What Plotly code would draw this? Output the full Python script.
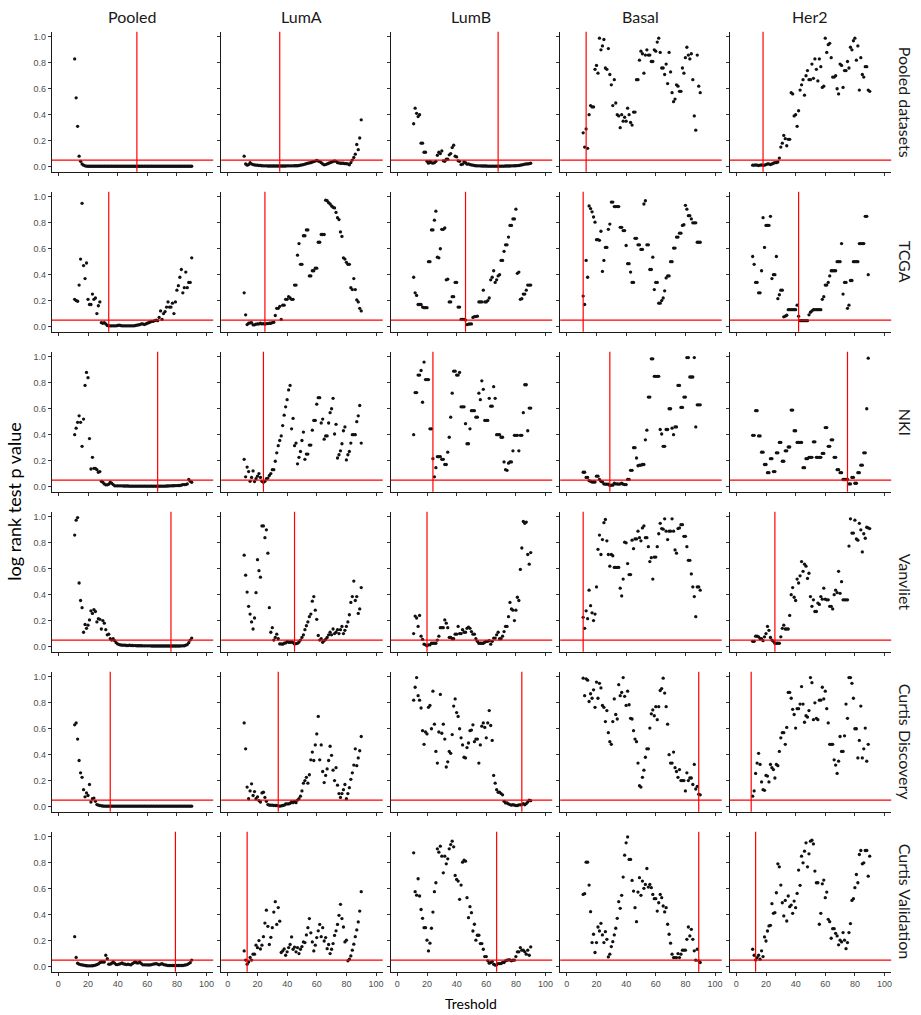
import plotly.graph_objects as go

# Threshold grid (percent) shared by every panel
thresholds = list(range(11, 91))

subtypes = ["Pooled", "LumA", "LumB", "Basal", "Her2"]
cohorts = ["Pooled datasets", "TCGA", "NKI", "Vanvliet", "Curtis Discovery", "Curtis Validation"]

# Selected cut-off per cohort (rows) and subtype (columns)
cutoffs = [
    [53, 35, 68, 13, 18],
    [34, 25, 46, 11, 42],
    [67, 24, 24, 29, 75],
    [76, 45, 20, 11, 26],
    [35, 34, 84, 89, 10],
    [79, 13, 67, 89, 13],
]
p_line = 0.05

# ---- log rank p values, one list per cohort / subtype ----
pd_pooled = [0.83, 0.53, 0.31, 0.08, 0.04, 0.02, 0.01, 0.005, 0.003, 0.002,
             0.002, 0.002, 0.002, 0.002, 0.002, 0.002, 0.002, 0.002, 0.002, 0.002,
             0.002, 0.002, 0.002, 0.002, 0.002, 0.002, 0.002, 0.002, 0.002, 0.002,
             0.002, 0.002, 0.002, 0.002, 0.002, 0.002, 0.002, 0.002, 0.002, 0.002,
             0.002, 0.002, 0.002, 0.002, 0.002, 0.002, 0.002, 0.002, 0.002, 0.002,
             0.002, 0.002, 0.002, 0.002, 0.002, 0.002, 0.002, 0.002, 0.002, 0.002,
             0.002, 0.002, 0.002, 0.002, 0.002, 0.002, 0.002, 0.002, 0.002, 0.002,
             0.002, 0.002, 0.002, 0.002, 0.002, 0.002, 0.002, 0.002, 0.002, 0.002]
pd_luma = [0.08, 0.02, 0.01, 0.015, 0.03, 0.02, 0.015, 0.012, 0.01, 0.01,
           0.008, 0.008, 0.006, 0.005, 0.005, 0.005, 0.004, 0.004, 0.004, 0.004,
           0.004, 0.004, 0.004, 0.004, 0.004, 0.004, 0.004, 0.004, 0.004, 0.005,
           0.005, 0.005, 0.005, 0.005, 0.006, 0.006, 0.006, 0.008, 0.01, 0.012,
           0.015, 0.018, 0.022, 0.025, 0.028, 0.03, 0.035, 0.038, 0.042, 0.048,
           0.042, 0.038, 0.03, 0.02, 0.013, 0.015, 0.02, 0.025, 0.03, 0.035,
           0.038, 0.044, 0.04, 0.03, 0.028, 0.025, 0.025, 0.025, 0.022, 0.022,
           0.02, 0.013, 0.03, 0.05, 0.07, 0.095, 0.17, 0.13, 0.22, 0.36]
pd_lumb = [0.33, 0.45, 0.41, 0.385, 0.40, 0.18, 0.18, 0.11, 0.11, 0.04,
           0.026, 0.04, 0.03, 0.026, 0.03, 0.04, 0.087, 0.11, 0.10, 0.12,
           0.044, 0.04, 0.056, 0.056, 0.09, 0.10, 0.146, 0.164, 0.08, 0.074,
           0.044, 0.04, 0.015, 0.018, 0.036, 0.03, 0.018, 0.02, 0.015, 0.012,
           0.01, 0.008, 0.006, 0.005, 0.005, 0.005, 0.004, 0.004, 0.004, 0.004,
           0.003, 0.003, 0.003, 0.003, 0.003, 0.003, 0.003, 0.003, 0.003, 0.003,
           0.003, 0.003, 0.004, 0.004, 0.004, 0.004, 0.005, 0.005, 0.006, 0.006,
           0.007, 0.008, 0.01, 0.012, 0.015, 0.018, 0.02, 0.02, 0.022, 0.025]
pd_basal = [0.26, 0.15, 0.29, 0.14, 0.40, 0.47, 0.46, 0.46, 0.75, 0.78,
            0.72, 0.99, 0.90, 0.93, 0.98, 0.76, 0.75, 0.91, 0.71, 0.63,
            0.47, 0.67, 0.49, 0.40, 0.39, 0.30, 0.40, 0.35, 0.38, 0.35,
            0.45, 0.40, 0.34, 0.32, 0.42, 0.42, 0.67, 0.67, 0.82, 0.89,
            0.87, 0.72, 0.86, 0.90, 0.86, 0.86, 0.81, 0.81, 0.90, 0.89,
            0.96, 0.99, 0.88, 0.76, 0.76, 0.71, 0.79, 0.64, 0.88, 0.73,
            0.57, 0.50, 0.52, 0.63, 0.62, 0.58, 0.58, 0.76, 0.72, 0.84,
            0.92, 0.86, 0.83, 0.87, 0.67, 0.39, 0.28, 0.86, 0.62, 0.57]
pd_her2 = [0.01, 0.01, 0.012, 0.01, 0.008, 0.01, 0.012, 0.01, 0.01, 0.015,
           0.02, 0.02, 0.015, 0.02, 0.025, 0.03, 0.03, 0.035, 0.065, 0.15,
           0.18, 0.24, 0.215, 0.16, 0.21, 0.21, 0.57, 0.56, 0.39, 0.40,
           0.31, 0.43, 0.59, 0.63, 0.67, 0.55, 0.70, 0.74, 0.67, 0.67,
           0.79, 0.68, 0.83, 0.75, 0.66, 0.83, 0.77, 0.61, 0.62, 0.99,
           0.88, 0.94, 0.95, 0.84, 0.69, 0.69, 0.70, 0.60, 0.56, 0.79,
           0.78, 0.61, 0.74, 0.74, 0.81, 0.76, 0.92, 0.90, 0.97, 0.99,
           0.82, 0.93, 0.59, 0.84, 0.71, 0.69, 0.77, 0.77, 0.59, 0.58]

tcga_pooled = [0.21, 0.20, 0.195, 0.32, 0.52, 0.95, 0.47, 0.37, 0.49, 0.21,
               0.17, 0.17, 0.25, 0.21, 0.22, 0.10, 0.16, 0.19, 0.03, 0.025,
               0.03, 0.02, 0.008, 0.005, 0.005, 0.005, 0.005, 0.005, 0.005, 0.008,
               0.01, 0.008, 0.005, 0.005, 0.005, 0.005, 0.005, 0.005, 0.005, 0.005,
               0.005, 0.008, 0.01, 0.012, 0.015, 0.02, 0.02, 0.015, 0.02, 0.025,
               0.03, 0.035, 0.04, 0.04, 0.045, 0.05, 0.045, 0.07, 0.12, 0.055,
               0.10, 0.115, 0.15, 0.19, 0.15, 0.15, 0.18, 0.10, 0.19, 0.28,
               0.315, 0.38, 0.44, 0.26, 0.30, 0.42, 0.30, 0.34, 0.34, 0.53]
tcga_luma = [0.26, 0.09, 0.015, 0.025, 0.028, 0.03, 0.013, 0.013, 0.018, 0.02,
             0.02, 0.025, 0.02, 0.023, 0.018, 0.023, 0.023, 0.025, 0.025, 0.03,
             0.033, 0.085, 0.14, 0.14, 0.155, 0.055, 0.165, 0.165, 0.21, 0.21,
             0.23, 0.22, 0.21, 0.21, 0.32, 0.32, 0.55, 0.64, 0.48, 0.48,
             0.70, 0.70, 0.745, 0.745, 0.39, 0.39, 0.43, 0.43, 0.45, 0.45,
             0.65, 0.65, 0.71, 0.71, 0.71, 0.975, 0.97, 0.955, 0.945, 0.93,
             0.92, 0.915, 0.88, 0.84, 0.825, 0.73, 0.695, 0.53, 0.52, 0.495,
             0.48, 0.48, 0.30, 0.285, 0.37, 0.285, 0.205, 0.19, 0.14, 0.12]
tcga_lumb = [0.38, 0.26, 0.24, 0.17, 0.17, 0.17, 0.15, 0.145, 0.145, 0.145,
             0.50, 0.50, 0.745, 0.745, 0.82, 0.89, 0.535, 0.53, 0.60, 0.75,
             0.75, 0.76, 0.36, 0.365, 0.19, 0.19, 0.23, 0.23, 0.34, 0.34,
             0.15, 0.15, 0.055, 0.055, 0.055, 0.05, 0.015, 0.018, 0.02, 0.02,
             0.07, 0.077, 0.077, 0.08, 0.19, 0.19, 0.19, 0.28, 0.19, 0.19,
             0.20, 0.22, 0.36, 0.38, 0.43, 0.34, 0.36, 0.39, 0.40, 0.51,
             0.51, 0.58, 0.63, 0.63, 0.69, 0.78, 0.78, 0.83, 0.83, 0.905,
             0.41, 0.42, 0.21, 0.215, 0.25, 0.25, 0.28, 0.32, 0.32, 0.32]
tcga_basal = [0.235, 0.17, 0.51, 0.38, 0.93, 0.91, 0.885, 0.845, 0.805, 0.67,
              0.67, 0.665, 0.735, 0.425, 0.51, 0.61, 0.61, 0.75, 0.79, 0.96,
              0.96, 0.925, 0.925, 0.925, 0.925, 0.765, 0.765, 0.74, 0.74, 0.625,
              0.485, 0.485, 0.42, 0.34, 0.34, 0.68, 0.68, 0.63, 0.63, 0.595,
              0.595, 0.945, 0.97, 0.63, 0.63, 0.44, 0.44, 0.535, 0.285, 0.34,
              0.34, 0.18, 0.18, 0.20, 0.22, 0.275, 0.375, 0.39, 0.39, 0.50,
              0.50, 0.605, 0.605, 0.69, 0.69, 0.72, 0.72, 0.78, 0.785, 0.935,
              0.905, 0.855, 0.855, 0.83, 0.80, 0.80, 0.80, 0.65, 0.65, 0.65]
tcga_her2 = [0.54, 0.48, 0.34, 0.34, 0.26, 0.26, 0.43, 0.84, 0.61, 0.78,
             0.78, 0.78, 0.85, 0.37, 0.40, 0.40, 0.54, 0.215, 0.245, 0.28,
             0.28, 0.075, 0.08, 0.087, 0.13, 0.13, 0.13, 0.13, 0.13, 0.13,
             0.165, 0.08, 0.045, 0.045, 0.045, 0.045, 0.045, 0.045, 0.09, 0.11,
             0.12, 0.13, 0.13, 0.13, 0.13, 0.13, 0.13, 0.21, 0.23, 0.32,
             0.32, 0.34, 0.39, 0.43, 0.43, 0.43, 0.43, 0.50, 0.50, 0.50,
             0.64, 0.25, 0.34, 0.34, 0.14, 0.165, 0.355, 0.355, 0.50, 0.50,
             0.50, 0.50, 0.64, 0.64, 0.64, 0.64, 0.85, 0.85, 0.40, None]

nki_pooled = [0.40, 0.45, 0.495, 0.545, 0.495, 0.31, 0.52, 0.78, 0.88, 0.84,
              0.37, 0.135, 0.225, 0.14, 0.14, 0.13, 0.11, 0.115, 0.04, 0.033,
              0.02, 0.013, 0.013, 0.018, 0.033, 0.025, 0.015, 0.005, 0.005, 0.005,
              0.005, 0.005, 0.005, 0.004, 0.004, 0.004, 0.004, 0.003, 0.003, 0.003,
              0.003, 0.003, 0.003, 0.003, 0.003, 0.003, 0.003, 0.003, 0.003, 0.003,
              0.003, 0.003, 0.003, 0.003, 0.003, 0.003, 0.003, 0.003, 0.003, 0.003,
              0.003, 0.003, 0.004, 0.004, 0.005, 0.005, 0.006, 0.006, 0.007, 0.007,
              0.008, 0.008, 0.01, 0.015, 0.015, 0.015, 0.02, 0.055, 0.04, 0.033]
nki_luma = [0.21, 0.075, 0.15, 0.115, 0.04, 0.07, 0.12, 0.038, 0.06, 0.08,
            0.10, 0.07, 0.04, 0.033, 0.04, 0.06, 0.065, 0.085, 0.10, 0.13,
            0.13, 0.195, 0.26, 0.315, 0.355, 0.39, 0.47, 0.55, 0.615, 0.67,
            0.745, 0.78, 0.445, 0.525, 0.315, 0.335, 0.175, 0.225, 0.27, 0.355,
            0.42, 0.21, 0.25, 0.25, 0.32, 0.32, 0.435, 0.51, 0.51, 0.635,
            0.685, 0.685, 0.49, 0.52, 0.365, 0.39, 0.39, 0.49, 0.57, 0.60,
            0.68, 0.405, 0.48, 0.22, 0.245, 0.275, 0.33, 0.43, 0.46, 0.205,
            0.245, 0.27, 0.335, 0.40, 0.40, 0.40, 0.50, 0.545, 0.625, 0.335]
nki_lumb = [0.40, 0.725, 0.725, 0.86, 0.86, 0.895, 0.65, 0.96, 0.825, 0.825,
            0.825, 0.445, 0.445, 0.215, 0.075, 0.145, 0.23, 0.23, 0.23, 0.21,
            0.21, 0.17, 0.17, 0.265, 0.38, 0.535, 0.72, 0.89, 0.89, 0.86,
            0.86, 0.88, 0.615, 0.615, 0.615, 0.485, 0.33, 0.33, 0.445, 0.585,
            0.585, 0.585, 0.535, 0.535, 0.72, 0.67, 0.815, 0.75, 0.51, 0.51,
            0.51, 0.68, 0.62, 0.62, 0.77, 0.68, 0.40, 0.40, 0.40, 0.38,
            0.38, 0.19, 0.13, 0.125, 0.18, 0.19, 0.19, 0.275, 0.395, 0.395,
            0.395, 0.275, 0.395, 0.395, 0.57, 0.785, 0.785, 0.43, 0.605, 0.605]
nki_basal = [0.11, 0.11, 0.07, 0.07, 0.045, 0.04, 0.035, 0.035, 0.035, 0.08,
             0.08, 0.055, 0.04, 0.035, 0.02, 0.018, 0.018, 0.018, 0.008, 0.01,
             0.01, 0.025, 0.02, 0.02, 0.018, 0.02, 0.025, 0.018, 0.015, 0.015,
             0.055, 0.055, 0.125, 0.125, 0.30, 0.30, 0.22, 0.16, 0.165, 0.165,
             0.17, 0.17, 0.36, 0.435, 0.69, 0.69, 0.985, 0.985, 0.85, 0.85,
             0.85, 0.85, 0.44, 0.405, 0.31, 0.31, 0.44, 0.44, 0.60, 0.60,
             0.45, 0.40, 0.46, 0.46, 0.78, 0.78, 0.61, 0.61, 0.69, 0.69,
             0.995, 0.995, 0.845, 0.845, 0.845, 0.995, 0.46, 0.63, 0.63, 0.63]
nki_her2 = [0.395, 0.395, 0.585, 0.585, 0.39, 0.39, 0.265, 0.265, 0.17, 0.17,
            0.107, 0.107, 0.215, 0.215, 0.115, 0.115, 0.26, 0.26, 0.34, 0.34,
            0.195, 0.195, 0.275, 0.275, 0.305, 0.305, 0.59, 0.59, 0.43, 0.43,
            0.34, 0.34, 0.34, 0.34, 0.145, 0.145, 0.215, 0.215, 0.225, 0.225,
            0.225, 0.345, 0.345, 0.225, 0.225, 0.225, 0.225, 0.255, 0.255, 0.455,
            0.455, 0.31, 0.31, 0.36, 0.36, 0.225, 0.225, 0.13, 0.13, 0.107,
            0.107, 0.054, 0.054, 0.054, 0.054, 0.02, 0.02, 0.07, 0.07, 0.025,
            0.025, 0.107, 0.107, 0.165, 0.165, 0.26, 0.26, 0.60, 0.99, None]

vv_pooled = [0.86, 0.975, 0.995, 0.49, 0.355, 0.30, 0.11, 0.17, 0.14, 0.165,
             0.205, 0.275, 0.255, 0.285, 0.27, 0.19, 0.215, 0.21, 0.135, 0.20,
             0.18, 0.13, 0.09, 0.095, 0.06, 0.05, 0.06, 0.045, 0.03, 0.02,
             0.015, 0.012, 0.01, 0.01, 0.01, 0.008, 0.008, 0.01, 0.008, 0.008,
             0.007, 0.007, 0.006, 0.006, 0.006, 0.006, 0.005, 0.005, 0.005, 0.005,
             0.005, 0.005, 0.004, 0.004, 0.004, 0.004, 0.004, 0.004, 0.004, 0.004,
             0.004, 0.004, 0.004, 0.004, 0.004, 0.004, 0.004, 0.004, 0.004, 0.004,
             0.004, 0.004, 0.005, 0.005, 0.006, 0.01, 0.015, 0.03, 0.05, 0.065]
vv_luma = [0.705, 0.55, 0.42, 0.31, 0.25, 0.19, 0.135, 0.22, 0.415, 0.67,
           0.585, 0.535, 0.93, 0.93, 0.84, 0.90, 0.72, 0.30, 0.11, 0.145,
           0.05, 0.07, 0.095, 0.06, 0.02, 0.02, 0.018, 0.025, 0.028, 0.038,
           0.033, 0.033, 0.035, 0.03, 0.02, 0.022, 0.025, 0.035, 0.05, 0.07,
           0.09, 0.13, 0.16, 0.19, 0.23, 0.25, 0.35, 0.385, 0.28, 0.21,
           0.085, 0.05, 0.06, 0.033, 0.045, 0.055, 0.07, 0.09, 0.11, 0.09,
           0.135, 0.10, 0.11, 0.13, 0.10, 0.13, 0.155, 0.10, 0.125, 0.155,
           0.19, 0.245, 0.34, 0.385, 0.505, 0.355, 0.385, 0.255, 0.29, 0.455]
vv_lumb = [0.10, 0.235, 0.22, 0.155, 0.24, 0.08, 0.055, 0.018, 0.013, 0.005,
           0.013, 0.013, 0.025, 0.025, 0.025, 0.025, 0.05, 0.08, 0.145, 0.145,
           0.145, 0.205, 0.18, 0.145, 0.07, 0.07, 0.06, 0.06, 0.095, 0.095,
           0.155, 0.10, 0.10, 0.13, 0.11, 0.11, 0.14, 0.15, 0.14, 0.115,
           0.095, 0.095, 0.06, 0.04, 0.025, 0.025, 0.025, 0.025, 0.033, 0.04,
           0.04, 0.045, 0.018, 0.04, 0.065, 0.065, 0.09, 0.11, 0.06, 0.06,
           0.08, 0.115, 0.155, 0.155, 0.23, 0.34, 0.29, 0.28, 0.20, 0.28,
           0.38, 0.355, 0.595, 0.76, 0.965, 0.95, 0.96, 0.71, 0.635, 0.725]
vv_basal = [0.225, 0.14, 0.275, 0.215, 0.435, 0.315, 0.26, 0.20, 0.25, 0.46,
            0.75, 0.86, 0.71, 0.825, 0.955, 0.98, 0.815, 0.71, 0.62, 0.71,
            0.70, 0.61, 0.61, 0.61, 0.61, 0.45, 0.39, 0.52, 0.805, 0.80,
            0.64, 0.555, 0.555, 0.82, 0.755, 0.83, 0.83, 0.89, 0.84, 0.815,
            0.915, 0.93, 0.84, 0.84, 0.77, 0.655, 0.685, 0.52, 0.69, 0.69,
            0.77, 0.87, 0.95, 0.91, 0.905, 0.985, 0.89, 0.825, 0.89, 0.89,
            0.985, 0.89, 0.745, 0.72, 0.91, 0.915, 0.94, 0.94, 0.85, 0.85,
            0.77, 0.665, 0.665, 0.56, 0.46, 0.385, 0.23, 0.46, 0.46, 0.435]
vv_her2 = [0.04, 0.04, 0.08, 0.08, 0.075, 0.06, 0.06, 0.045, 0.075, 0.10,
           0.155, 0.125, 0.07, 0.05, 0.04, 0.025, 0.025, 0.025, 0.025, 0.075,
           0.14, 0.165, 0.135, 0.135, 0.135, 0.24, 0.40, 0.455, 0.38, 0.355,
           0.52, 0.49, 0.545, 0.655, 0.58, 0.635, 0.62, 0.525, 0.565, 0.385,
           0.31, 0.36, 0.27, 0.27, 0.335, 0.325, 0.385, 0.365, 0.45, 0.365,
           0.36, 0.36, 0.31, 0.31, 0.29, 0.40, 0.435, 0.415, 0.58, 0.41,
           0.50, 0.36, 0.36, 0.36, 0.36, 0.775, 0.985, 0.875, 0.875, 0.975,
           0.83, 0.82, 0.95, 0.90, 0.73, 0.87, 0.835, 0.92, 0.915, 0.91]

cd_pooled = [0.63, 0.645, 0.52, 0.355, 0.26, 0.225, 0.13, 0.075, 0.105, 0.085,
             0.17, 0.035, 0.06, 0.065, 0.04, 0.015, 0.01, 0.008, 0.005, 0.004,
             0.003, 0.003, 0.003, 0.003, 0.003, 0.003, 0.003, 0.003, 0.003, 0.003,
             0.003, 0.003, 0.003, 0.003, 0.003, 0.003, 0.003, 0.003, 0.003, 0.003,
             0.003, 0.003, 0.003, 0.003, 0.003, 0.003, 0.003, 0.003, 0.003, 0.003,
             0.003, 0.003, 0.003, 0.003, 0.003, 0.003, 0.003, 0.003, 0.003, 0.003,
             0.003, 0.003, 0.003, 0.003, 0.003, 0.003, 0.003, 0.003, 0.003, 0.003,
             0.003, 0.003, 0.003, 0.003, 0.003, 0.003, 0.003, 0.003, 0.003, 0.003]
cd_luma = [0.645, 0.445, 0.15, 0.06, 0.12, 0.175, 0.085, 0.115, 0.06, 0.075,
           0.045, 0.035, 0.105, 0.11, 0.07, 0.04, 0.015, 0.01, 0.01, 0.01,
           0.008, 0.008, 0.008, 0.005, 0.003, 0.005, 0.008, 0.01, 0.02, 0.02,
           0.02, 0.025, 0.035, 0.03, 0.04, 0.03, 0.05, 0.06, 0.08, 0.12,
           0.18, 0.20, 0.225, 0.18, 0.245, 0.36, 0.42, 0.355, 0.475, 0.56,
           0.695, 0.36, 0.475, 0.27, 0.185, 0.24, 0.29, 0.355, 0.465, 0.395,
           0.28, 0.20, 0.30, 0.165, 0.10, 0.07, 0.10, 0.13, 0.17, 0.06,
           0.10, 0.145, 0.21, 0.26, 0.32, 0.445, 0.315, 0.375, 0.43, 0.54]
cd_lumb = [0.82, 0.92, 0.995, 0.855, 0.82, 0.76, 0.585, 0.48, 0.575, 0.56,
           0.765, 0.78, 0.60, 0.89, 0.635, 0.425, 0.335, 0.575, 0.865, 0.565,
           0.635, 0.52, 0.305, 0.345, 0.425, 0.41, 0.555, 0.775, 0.83, 0.725,
           0.695, 0.60, 0.53, 0.475, 0.38, 0.375, 0.455, 0.49, 0.585, 0.59,
           0.63, 0.50, 0.52, 0.52, 0.335, 0.475, 0.62, 0.645, 0.61, 0.53,
           0.645, 0.74, 0.625, 0.51, 0.24, 0.18, 0.13, 0.11, 0.11, 0.10,
           0.09, 0.04, 0.028, 0.028, 0.02, 0.015, 0.01, 0.015, 0.01, 0.008,
           0.008, 0.013, 0.013, 0.015, 0.023, 0.013, 0.023, 0.035, 0.05, 0.045]
cd_basal = [0.99, 0.855, 0.985, 0.975, 0.81, 0.87, 0.835, 0.90, 0.765, 0.96,
            0.835, 0.95, 0.915, 0.78, 0.765, 0.655, 0.74, 0.57, 0.50, 0.48,
            0.655, 0.83, 0.71, 0.675, 0.94, 0.855, 0.88, 0.995, 0.85, 0.78,
            0.89, 0.785, 0.68, 0.675, 0.585, 0.52, 0.50, 0.335, 0.16, 0.15,
            0.225, 0.28, 0.38, 0.445, 0.445, 0.605, 0.715, 0.745, 0.70, 0.77,
            0.67, 0.77, 0.895, 0.91, 0.99, 0.875, 0.77, 0.635, 0.40, 0.335,
            0.335, 0.42, 0.30, 0.27, 0.225, 0.285, 0.20, 0.20, 0.20, 0.12,
            0.26, 0.20, 0.22, 0.22, 0.17, 0.325, 0.135, 0.155, 0.095, 0.09]
cd_her2 = [0.08, 0.12, 0.255, 0.335, 0.41, 0.325, 0.19, 0.13, 0.125, 0.24,
           0.235, 0.19, 0.325, 0.30, 0.285, 0.22, 0.325, 0.315, 0.425, 0.53,
           0.57, 0.57, 0.48, 0.61, 0.88, 0.88, 0.835, 0.75, 0.71, 0.605,
           0.755, 0.755, 0.79, 0.925, 0.79, 0.65, 0.70, 0.69, 0.74, 0.995,
           0.955, 0.67, 0.80, 0.68, 0.67, 0.82, 0.82, 0.92, 0.83, 0.89,
           0.755, 0.645, 0.48, 0.48, 0.48, 0.36, 0.32, 0.255, 0.35, 0.54,
           0.425, 0.425, 0.545, 0.79, 0.68, 0.995, 0.995, 0.95, 0.835, 0.60,
           0.60, 0.375, 0.51, 0.775, 0.375, 0.445, 0.605, 0.35, 0.48, None]

cv_pooled = [0.23, 0.07, 0.025, 0.018, 0.015, 0.012, 0.01, 0.008, 0.006, 0.005,
             0.005, 0.005, 0.006, 0.008, 0.01, 0.015, 0.02, 0.03, 0.035, 0.035,
             0.035, 0.087, 0.06, 0.018, 0.018, 0.025, 0.035, 0.025, 0.015, 0.015,
             0.018, 0.023, 0.028, 0.02, 0.018, 0.015, 0.018, 0.015, 0.013, 0.023,
             0.03, 0.035, 0.028, 0.028, 0.035, 0.023, 0.013, 0.013, 0.013, 0.012,
             0.012, 0.012, 0.015, 0.018, 0.02, 0.023, 0.018, 0.013, 0.018, 0.023,
             0.015, 0.012, 0.01, 0.008, 0.008, 0.008, 0.008, 0.008, 0.008, 0.008,
             0.008, 0.008, 0.008, 0.008, 0.01, 0.012, 0.015, 0.023, 0.03, 0.05]
cv_luma = [0.12, 0.05, 0.018, 0.035, 0.07, 0.05, 0.095, 0.095, 0.165, 0.145,
           0.20, 0.135, 0.165, 0.23, 0.335, 0.435, 0.31, 0.17, 0.225, 0.30,
           0.42, 0.50, 0.325, 0.455, 0.35, 0.108, 0.12, 0.135, 0.087, 0.113,
           0.146, 0.17, 0.228, 0.133, 0.15, 0.113, 0.146, 0.10, 0.133, 0.154,
           0.19, 0.185, 0.244, 0.30, 0.37, 0.26, 0.19, 0.12, 0.165, 0.223,
           0.275, 0.325, 0.23, 0.30, 0.197, 0.223, 0.138, 0.17, 0.10, 0.133,
           0.177, 0.24, 0.275, 0.325, 0.395, 0.48, 0.37, 0.305, 0.19, 0.203,
           0.044, 0.056, 0.082, 0.126, 0.172, 0.23, 0.282, 0.344, 0.428, 0.577]
cv_lumb = [0.877, 0.577, 0.55, 0.677, 0.544, 0.44, 0.372, 0.30, 0.30, 0.203,
           0.12, 0.18, 0.295, 0.42, 0.577, 0.646, 0.908, 0.882, 0.928, 0.851,
           0.723, 0.851, 0.792, 0.831, 0.908, 0.941, 0.967, 0.923, 0.703, 0.672,
           0.659, 0.518, 0.628, 0.805, 0.821, 0.813, 0.531, 0.377, 0.462, 0.415,
           0.274, 0.326, 0.203, 0.241, 0.241, 0.177, 0.177, 0.133, 0.077, 0.077,
           0.044, 0.026, 0.031, 0.038, 0.018, 0.01, 0.013, 0.023, 0.023, 0.023,
           0.031, 0.031, 0.044, 0.049, 0.051, 0.051, 0.044, 0.049, 0.049, 0.077,
           0.113, 0.113, 0.146, 0.126, 0.126, 0.113, 0.095, 0.126, 0.087, 0.151]
cv_basal = [0.556, 0.562, 0.805, 0.805, 0.628, 0.423, 0.185, 0.249, 0.108, 0.185,
            0.305, 0.274, 0.333, 0.244, 0.185, 0.269, 0.21, 0.074, 0.095, 0.154,
            0.192, 0.244, 0.295, 0.372, 0.50, 0.449, 0.549, 0.69, 0.859, 0.954,
            1.0, 0.826, 0.826, 0.664, 0.582, 0.454, 0.346, 0.574, 0.685, 0.549,
            0.659, 0.603, 0.633, 0.756, 0.613, 0.633, 0.608, 0.556, 0.523, 0.523,
            0.428, 0.492, 0.556, 0.531, 0.467, 0.421, 0.454, 0.326, 0.249, 0.18,
            0.095, 0.069, 0.069, 0.069, 0.10, 0.069, 0.095, 0.126, 0.126, 0.126,
            0.21, 0.305, 0.236, 0.287, 0.21, 0.121, 0.049, 0.133, 0.044, 0.031]
cv_her2 = [0.133, 0.087, 0.051, 0.069, 0.087, 0.056, 0.121, 0.077, 0.228, 0.197,
           0.274, 0.313, 0.318, 0.485, 0.41, 0.415, 0.569, 0.792, 0.769, 0.628,
           0.492, 0.39, 0.51, 0.351, 0.544, 0.462, 0.474, 0.41, 0.505, 0.454,
           0.564, 0.744, 0.626, 0.851, 0.80, 0.89, 0.954, 0.769, 0.869, 0.967,
           0.974, 0.946, 0.736, 0.646, 0.646, 0.326, 0.41, 0.638, 0.667, 0.531,
           0.574, 0.364, 0.346, 0.218, 0.292, 0.292, 0.256, 0.236, 0.167, 0.203,
           0.19, 0.262, 0.203, 0.138, 0.185, 0.262, 0.331, 0.51, 0.523, 0.608,
           0.71, 0.646, 0.864, 0.895, 0.792, 0.80, 0.895, 0.895, 0.697, 0.851]

pvalues = [
    [pd_pooled, pd_luma, pd_lumb, pd_basal, pd_her2],
    [tcga_pooled, tcga_luma, tcga_lumb, tcga_basal, tcga_her2],
    [nki_pooled, nki_luma, nki_lumb, nki_basal, nki_her2],
    [vv_pooled, vv_luma, vv_lumb, vv_basal, vv_her2],
    [cd_pooled, cd_luma, cd_lumb, cd_basal, cd_her2],
    [cv_pooled, cv_luma, cv_lumb, cv_basal, cv_her2],
]
for r, row in enumerate(pvalues):
    for c, vals in enumerate(row):
        if len(vals) != len(thresholds):
            raise ValueError(f"{cohorts[r]} / {subtypes[c]}: {len(vals)} values")

# ---- page geometry (pixels) ----
W, H = 921, 1015
col_left = [51.7, 221.2, 390.7, 560.2, 729.7]
col_w = 161.5
row_top = [31.7, 191.7, 351.7, 511.7, 671.7, 831.7]
row_h = 140.0

TICK_FONT = dict(family="Liberation Sans, Arial, sans-serif", size=9, color="#4d4d4d")
LABEL_FONT = "Lato, Open Sans, sans-serif"

fig = go.Figure()
shapes = []
layout_axes = {}

for r in range(6):
    for c in range(5):
        k = r * 5 + c + 1
        sfx = "" if k == 1 else str(k)
        xid, yid = "x" + sfx, "y" + sfx
        fig.add_trace(go.Scatter(
            x=thresholds, y=pvalues[r][c], mode="markers",
            marker=dict(size=3.3, color="#111111", line=dict(width=0)),
            xaxis=xid, yaxis=yid, showlegend=False, hoverinfo="skip",
        ))
        layout_axes["xaxis" + sfx] = dict(
            domain=[col_left[c] / W, (col_left[c] + col_w) / W],
            anchor=yid, range=[-4.5, 104.5],
            tickvals=[0, 20, 40, 60, 80, 100], showticklabels=(r == 5),
            showline=True, linecolor="#1a1a1a", linewidth=1,
            ticks="outside", ticklen=3, tickwidth=1, tickcolor="#333333",
            showgrid=False, zeroline=False, tickfont=TICK_FONT,
        )
        layout_axes["yaxis" + sfx] = dict(
            domain=[1 - (row_top[r] + row_h) / H, 1 - row_top[r] / H],
            anchor=xid, range=[-0.04, 1.04],
            tickvals=[0, 0.2, 0.4, 0.6, 0.8, 1.0], tickformat=".1f",
            showticklabels=(c == 0),
            showline=True, linecolor="#1a1a1a", linewidth=1,
            ticks="outside", ticklen=3, tickwidth=1, tickcolor="#333333",
            showgrid=False, zeroline=False, tickfont=TICK_FONT,
        )
        # significance level and chosen cut-off
        shapes.append(dict(type="line", xref=xid + " domain", yref=yid,
                           x0=0, x1=1, y0=p_line, y1=p_line,
                           line=dict(color="#ff0000", width=1.2), layer="above"))
        shapes.append(dict(type="line", xref=xid, yref=yid + " domain",
                           x0=cutoffs[r][c], x1=cutoffs[r][c], y0=0, y1=1,
                           line=dict(color="#ff0000", width=1.2), layer="above"))

annotations = []
for c, name in enumerate(subtypes):
    annotations.append(dict(text=name, xref="paper", yref="paper",
                            x=(col_left[c] + col_w / 2) / W, y=1 - 16.5 / H,
                            showarrow=False, xanchor="center", yanchor="middle",
                            font=dict(family=LABEL_FONT, size=16, color="#1a1a1a")))
for r, name in enumerate(cohorts):
    annotations.append(dict(text=name, xref="paper", yref="paper",
                            x=905 / W, y=1 - (row_top[r] + row_h / 2) / H,
                            textangle=90, showarrow=False,
                            xanchor="center", yanchor="middle",
                            font=dict(family=LABEL_FONT, size=16, color="#1a1a1a")))
annotations.append(dict(text="log rank test p value", xref="paper", yref="paper",
                        x=14 / W, y=1 - (row_top[0] + row_top[-1] + row_h) / 2 / H,
                        textangle=-90, showarrow=False,
                        xanchor="center", yanchor="middle",
                        font=dict(family=LABEL_FONT, size=18, color="#000000")))
annotations.append(dict(text="Treshold", xref="paper", yref="paper",
                        x=(col_left[0] + col_left[-1] + col_w) / 2 / W, y=1 - 1003 / H,
                        showarrow=False, xanchor="center", yanchor="middle",
                        font=dict(family=LABEL_FONT, size=14, color="#000000")))

fig.update_layout(
    width=W, height=H,
    margin=dict(l=0, r=0, t=0, b=0),
    paper_bgcolor="white", plot_bgcolor="white",
    shapes=shapes, annotations=annotations,
    **layout_axes,
)

fig.write_html("out.html")
